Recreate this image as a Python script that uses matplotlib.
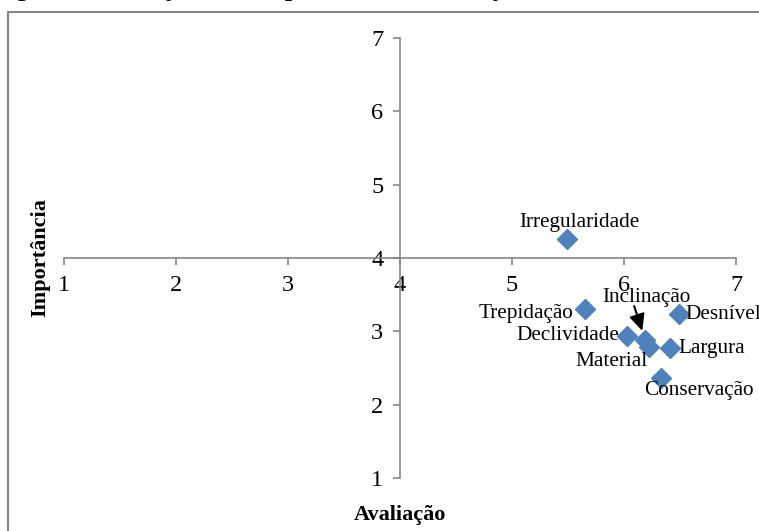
import matplotlib
matplotlib.use("agg")
import matplotlib.pyplot as plt
from matplotlib.patches import Rectangle

# avaliacao (x) e importancia (y) por atributo
atributos = ["Irregularidade", "Trepidação", "Desnível", "Declividade",
             "Inclinação", "Material", "Largura", "Conservação"]
avaliacao = [5.49, 5.65, 6.49, 6.03, 6.19, 6.22, 6.41, 6.33]
importancia = [4.26, 3.30, 3.23, 2.94, 2.88, 2.78, 2.77, 2.36]
ticks = [1, 2, 3, 4, 5, 6, 7]

# posicao dos rotulos (offset em pontos, alinhamento)
label_pos = {
    "Irregularidade": ((9, 12), "center"),
    "Trepidação": ((-8, -3), "right"),
    "Desnível": ((5, 0), "left"),
    "Declividade": ((-6, 0), "right"),
    "Inclinação": ((1, 31), "center"),
    "Material": ((-27, -10), "center"),
    "Largura": ((6, 0), "left"),
    "Conservação": ((27, -9), "center"),
}

plt.rcParams['font.family'] = ['Liberation Serif', 'DejaVu Serif']
grey = '#868686'

fig = plt.figure(figsize=(7.59, 5.31), dpi=100)
ax = fig.add_axes([0.0843, 0.0998, 0.8854, 0.8286])

# moldura do grafico (cortada a direita e embaixo)
fig.patches.append(Rectangle((8 / 759, -0.1), 1.2, 1 - 12 / 531 + 0.1,
                             transform=fig.transFigure, fill=False,
                             edgecolor=grey, lw=1.5))

# titulo da figura, quase todo fora do recorte
fig.text(-0.01, 1 + 4 / 531, "Figura 3.5: Calçadas – Importância x Avaliação",
         fontsize=19, fontweight='bold', va='baseline', ha='left')

ax.plot(avaliacao, importancia, linestyle='none', marker='D', ms=10,
        color='#4F81BD', zorder=3, clip_on=False)

for nome, x, y in zip(atributos, avaliacao, importancia):
    off, ha = label_pos[nome]
    ax.annotate(nome, (x, y), xytext=off, textcoords='offset points',
                ha=ha, va='center', fontsize=15.3)

ax.annotate('', xy=(avaliacao[4], importancia[4]), xytext=(-8, 24.5),
            textcoords='offset points',
            arrowprops=dict(arrowstyle='-|>,head_width=0.47,head_length=1.0',
                            color='black', lw=1.5, shrinkA=0, shrinkB=7))

ax.set_xlim(1, 7)
ax.set_ylim(1, 7)
ax.set_xticks(ticks)
ax.set_yticks(ticks)
ax.spines['left'].set_position(('data', 4))
ax.spines['bottom'].set_position(('data', 4))
ax.spines['top'].set_visible(False)
ax.spines['right'].set_visible(False)
for s in ('left', 'bottom'):
    ax.spines[s].set_color(grey)
    ax.spines[s].set_linewidth(1.2)
ax.tick_params(direction='out', length=5, width=1.2, color=grey,
               labelsize=17.5, pad=7)
ax.patch.set_alpha(0)

fig.text(400 / 759, 1 - 515 / 531, "Avaliação", fontsize=16,
         fontweight='bold', ha='center', va='center')
fig.text(40 / 759, 1 - 258 / 531, "Importância", fontsize=16,
         fontweight='bold', ha='center', va='center', rotation=90)

fig.savefig("out.png", dpi=100)
